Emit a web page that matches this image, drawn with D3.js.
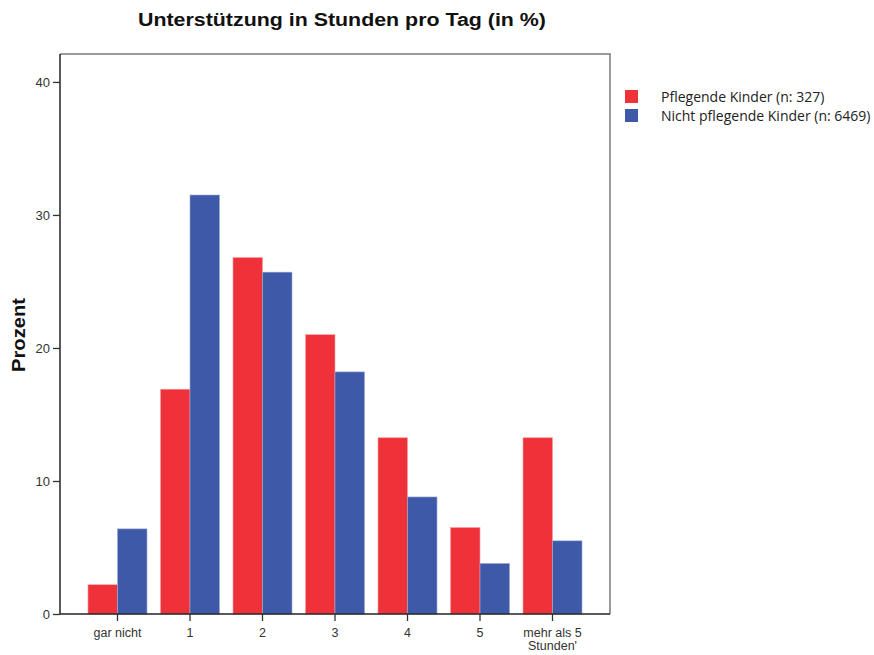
<!DOCTYPE html>
<html>
<head>
<meta charset="utf-8">
<script src="https://cdn.jsdelivr.net/npm/d3@7"></script>
<style>
  body { margin: 0; background: #fff; }
  svg { display: block; }
</style>
</head>
<body>
<div id="chart-container"></div>
<script>
const categories = ["gar nicht", "1", "2", "3", "4", "5", "mehr als 5|Stunden'"];
const seriesNames = ["Pflegende Kinder (n: 327)", "Nicht pflegende Kinder (n: 6469)"];
const pflegend = [2.2, 16.9, 26.8, 21.0, 13.25, 6.5, 13.25];
const nichtPflegend = [6.4, 31.5, 25.7, 18.2, 8.8, 3.8, 5.5];
const yTicks = [0, 10, 20, 30, 40];
const colors = ["#ef323a", "#3e59a8"];

const width = 874, height = 655;
const margin = {top: 54, right: 264, bottom: 41, left: 60};
const innerW = width - margin.left - margin.right;
const innerH = height - margin.top - margin.bottom;

const svg = d3.select("#chart-container").append("svg")
    .attr("width", width)
    .attr("height", height);

const g = svg.append("g")
    .attr("transform", `translate(${margin.left}, ${margin.top})`);

const xScale = d3.scaleBand()
    .domain(categories)
    .range([0, innerW])
    .paddingInner(0.186)
    .paddingOuter(0.386);

const xSub = d3.scaleBand()
    .domain([0, 1])
    .range([0, xScale.bandwidth()]);

const yScale = d3.scaleLinear()
    .domain([0, 42.1])
    .range([innerH, 0]);

// frame (top + right grey)
g.append("path")
    .attr("d", `M0,0H${innerW}V${innerH}`)
    .attr("fill", "none")
    .attr("stroke", "#7a7a7a")
    .attr("stroke-width", 1.5);

// bars
const rows = categories.map((c, i) => ({cat: c, vals: [pflegend[i], nichtPflegend[i]]}));
const groups = g.selectAll(".grp")
    .data(rows)
    .enter().append("g")
    .attr("class", "grp")
    .attr("transform", d => `translate(${xScale(d.cat)},0)`);

groups.selectAll("rect")
    .data(d => d.vals.map((v, k) => ({k: k, v: v})))
    .enter().append("rect")
    .attr("x", d => xSub(d.k))
    .attr("y", d => yScale(d.v))
    .attr("width", xSub.bandwidth())
    .attr("height", d => innerH - yScale(d.v))
    .attr("fill", d => colors[d.k])
    .attr("stroke", d => d.k === 0 ? "#f6a0a3" : "#9fabd4")
    .attr("stroke-width", 0.6);

// y axis
const yAxis = g.append("g")
    .call(d3.axisLeft(yScale).tickValues(yTicks).tickSize(7).tickPadding(3));
yAxis.select(".domain").attr("d", `M0,0V${innerH}`).attr("stroke", "#222").attr("stroke-width", 1.5);
yAxis.selectAll(".tick line").attr("stroke", "#333").attr("stroke-width", 1.3);
yAxis.selectAll(".tick text")
    .attr("font-family", "Liberation Sans, Arial, sans-serif")
    .attr("font-size", 13)
    .attr("fill", "#333");

// x axis
const xAxis = g.append("g")
    .attr("transform", `translate(0, ${innerH})`)
    .call(d3.axisBottom(xScale).tickSize(7).tickSizeOuter(0).tickFormat(""));
xAxis.select(".domain").attr("d", `M0,0H${innerW}`).attr("stroke", "#222").attr("stroke-width", 1.5);
xAxis.selectAll(".tick line").attr("stroke", "#333").attr("stroke-width", 1.3);
xAxis.selectAll(".tick").each(function(d) {
    const lines = d.split("|");
    const t = d3.select(this).append("text")
        .attr("text-anchor", "middle")
        .attr("font-family", "Liberation Sans, Arial, sans-serif")
        .attr("font-size", 12.5)
        .attr("fill", "#333");
    lines.forEach((l, i) => {
        t.append("tspan").attr("x", 0).attr("y", 23 + i * 13).text(l);
    });
});

// title
svg.append("text")
    .attr("x", 342)
    .attr("y", 26)
    .attr("text-anchor", "middle")
    .attr("font-family", "Liberation Sans, Arial, sans-serif")
    .attr("font-weight", "bold")
    .attr("font-size", 18)
    .attr("textLength", 408)
    .attr("lengthAdjust", "spacingAndGlyphs")
    .attr("fill", "#111")
    .text("Unterstützung in Stunden pro Tag (in %)");

// y label
svg.append("text")
    .attr("transform", "translate(25, 335) rotate(-90)")
    .attr("text-anchor", "middle")
    .attr("font-family", "Liberation Sans, Arial, sans-serif")
    .attr("font-weight", "bold")
    .attr("font-size", 18)
    .attr("textLength", 74)
    .attr("lengthAdjust", "spacingAndGlyphs")
    .attr("fill", "#111")
    .text("Prozent");

// legend
const legend = svg.append("g").attr("transform", "translate(625, 90)");
seriesNames.forEach((name, i) => {
    legend.append("rect")
        .attr("x", 0)
        .attr("y", i * 19)
        .attr("width", 13)
        .attr("height", 13)
        .attr("fill", colors[i]);
    legend.append("text")
        .attr("x", 36)
        .attr("y", i * 19 + 12)
        .attr("font-family", "Open Sans, Noto Sans, sans-serif")
        .attr("font-size", 14)
        .attr("fill", "#222")
        .text(name);
});
</script>
</body>
</html>
